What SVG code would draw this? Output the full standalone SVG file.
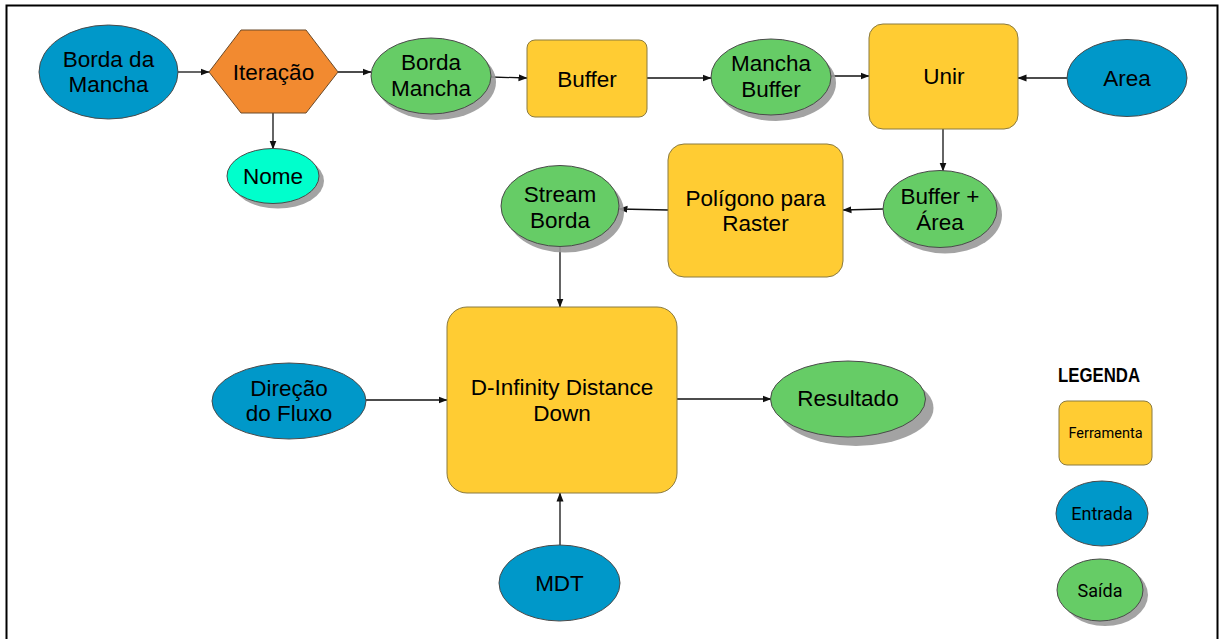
<svg xmlns="http://www.w3.org/2000/svg" width="1219" height="639" viewBox="0 0 1219 639">
<style>
text{font-family:"Liberation Sans",Arial,sans-serif;font-size:22.5px;fill:#000;text-anchor:middle}
.blue{fill:#0098C9;stroke:#4a4a4a;stroke-width:1}
.green{fill:#66CC66;stroke:#4a4a4a;stroke-width:1}
.cyan{fill:#00FFCC;stroke:#4a4a4a;stroke-width:1}
.tool{fill:#FFCC33;stroke:#8a7a40;stroke-width:1}
.orange{fill:#F28A30;stroke:#6a4a2a;stroke-width:1}
.shadow{fill:#999;opacity:.9}
.conn line{stroke:#111;stroke-width:1.3;marker-end:url(#arr)}
.leg{font-family:Roboto,"Liberation Sans",sans-serif}
</style>
<defs>
<marker id="arr" markerWidth="9" markerHeight="8" refX="8.5" refY="4" orient="auto" markerUnits="userSpaceOnUse">
<path d="M0,0.5 L9,4 L0,7.5 Z" fill="#111"/>
</marker>
</defs>
<rect x="6.5" y="5.5" width="1211" height="640" fill="#fff" stroke="#000" stroke-width="2"/>

<g class="conn">
<line x1="178" y1="72" x2="209" y2="72"/>
<line x1="273" y1="113" x2="273" y2="149"/>
<line x1="338" y1="72" x2="371" y2="72"/>
<line x1="491" y1="77" x2="527" y2="78"/>
<line x1="647" y1="78" x2="711" y2="78"/>
<line x1="831" y1="76" x2="869" y2="76"/>
<line x1="1067" y1="78" x2="1018" y2="78"/>
<line x1="943" y1="129" x2="943" y2="171"/>
<line x1="883" y1="209" x2="843" y2="210"/>
<line x1="668" y1="210" x2="619" y2="209"/>
<line x1="560" y1="247" x2="560" y2="307"/>
<line x1="366" y1="400" x2="447" y2="400"/>
<line x1="677" y1="399" x2="771" y2="399"/>
<line x1="560" y1="545" x2="560" y2="493"/>
</g>

<g id="borda-da-mancha">
<ellipse class="blue" cx="108.5" cy="72" rx="69.5" ry="47"/>
<text x="108.5" y="67">Borda da</text>
<text x="108.5" y="92">Mancha</text>
</g>

<g id="iteracao">
<polygon class="orange" points="209,72 241,30 306,30 338,72 306,113 241,113"/>
<text x="273.5" y="80">Iteração</text>
</g>

<g id="nome">
<ellipse class="shadow" cx="278" cy="181" rx="46" ry="27.5"/>
<ellipse class="cyan" cx="273" cy="176" rx="46" ry="27.5"/>
<text x="273" y="184">Nome</text>
</g>

<g id="borda-mancha">
<ellipse class="shadow" cx="436" cy="82" rx="60" ry="38"/>
<ellipse class="green" cx="431" cy="76" rx="60" ry="38"/>
<text x="431" y="70">Borda</text>
<text x="431" y="96">Mancha</text>
</g>

<g id="buffer">
<rect class="tool" x="527" y="40" width="120" height="77" rx="8"/>
<text x="587" y="87">Buffer</text>
</g>

<g id="mancha-buffer">
<ellipse class="shadow" cx="776" cy="83" rx="60" ry="38"/>
<ellipse class="green" cx="771" cy="77" rx="60" ry="38"/>
<text x="771" y="71">Mancha</text>
<text x="771" y="97">Buffer</text>
</g>

<g id="unir">
<rect class="tool" x="869" y="24" width="149" height="105" rx="14"/>
<text x="944" y="84">Unir</text>
</g>

<g id="area">
<ellipse class="blue" cx="1127" cy="78" rx="60" ry="38.5"/>
<text x="1127" y="86">Area</text>
</g>

<g id="buffer-area">
<ellipse class="shadow" cx="945" cy="215" rx="57" ry="38.5"/>
<ellipse class="green" cx="940" cy="209" rx="57" ry="38.5"/>
<text x="940" y="204">Buffer +</text>
<text x="940" y="230">Área</text>
</g>

<g id="poligono-para-raster">
<rect class="tool" x="668" y="144" width="175" height="133" rx="16"/>
<text x="755.5" y="206">Polígono para</text>
<text x="755.5" y="231">Raster</text>
</g>

<g id="stream-borda">
<ellipse class="shadow" cx="565" cy="212" rx="59" ry="40.5"/>
<ellipse class="green" cx="560" cy="206" rx="59" ry="40.5"/>
<text x="560" y="202">Stream</text>
<text x="560" y="228">Borda</text>
</g>

<g id="d-infinity">
<rect class="tool" x="447" y="307" width="230" height="186" rx="20"/>
<text x="562" y="395">D-Infinity Distance</text>
<text x="562" y="421">Down</text>
</g>

<g id="direcao-do-fluxo">
<ellipse class="blue" cx="289" cy="401" rx="77" ry="38"/>
<text x="289" y="396">Direção</text>
<text x="289" y="421">do Fluxo</text>
</g>

<g id="resultado">
<ellipse class="shadow" cx="856" cy="408" rx="77.5" ry="38"/>
<ellipse class="green" cx="848" cy="399" rx="77.5" ry="38"/>
<text x="848" y="406">Resultado</text>
</g>

<g id="mdt">
<ellipse class="blue" cx="559.5" cy="583" rx="60.5" ry="38"/>
<text x="559.5" y="591">MDT</text>
</g>

<g id="legenda">
<text x="1099" y="382" style="font-weight:bold;font-size:21px" textLength="82" lengthAdjust="spacingAndGlyphs">LEGENDA</text>
<rect class="tool" x="1059" y="401" width="93" height="64" rx="8"/>
<text class="leg" x="1105.5" y="438" style="font-size:14.5px">Ferramenta</text>
<ellipse class="blue" cx="1102" cy="513.5" rx="46" ry="32.5"/>
<text class="leg" x="1102" y="520" style="font-size:18px">Entrada</text>
<ellipse class="shadow" cx="1105" cy="595" rx="43" ry="31"/>
<ellipse class="green" cx="1100" cy="590" rx="43" ry="31"/>
<text class="leg" x="1100" y="597" style="font-size:18px">Saída</text>
</g>
</svg>
